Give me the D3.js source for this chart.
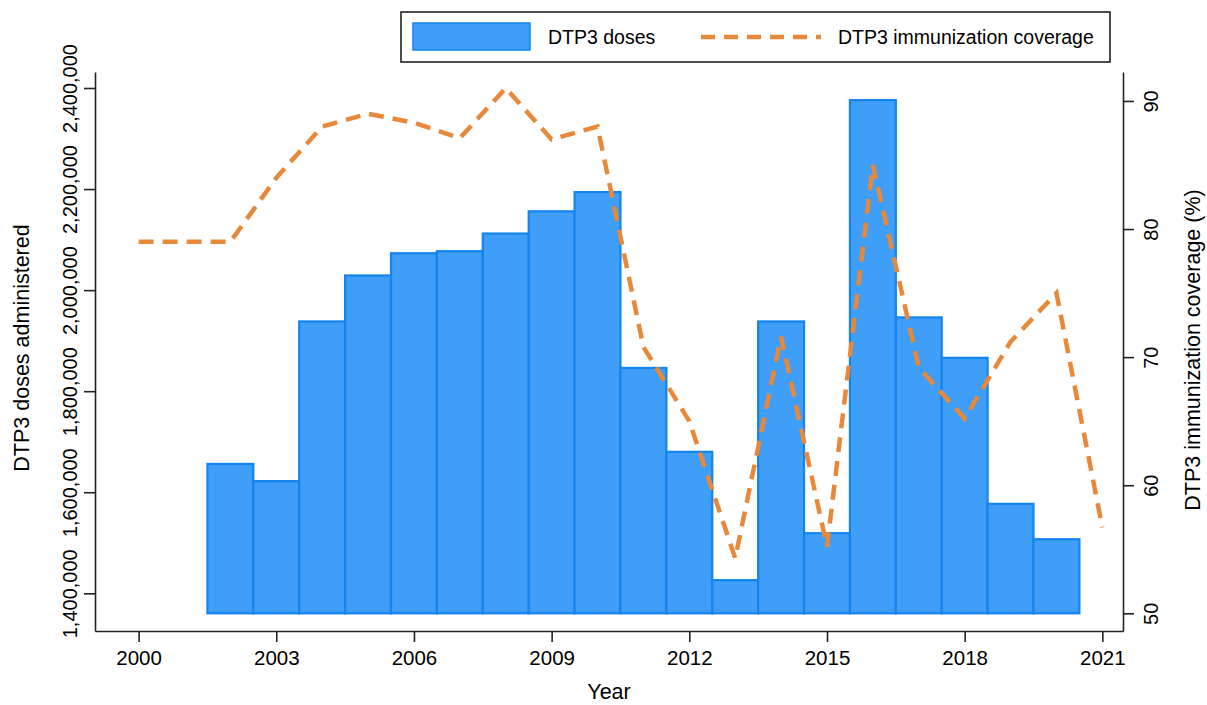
<!DOCTYPE html>
<html>
<head>
<meta charset="utf-8">
<script src="https://cdn.jsdelivr.net/npm/d3@7"></script>
<style>
  body { margin: 0; background: #fff; }
  text { font-family: "Liberation Sans", Arial, sans-serif; fill: #000; }
</style>
</head>
<body>
<script>
// Data
var years = [2000, 2001, 2002, 2003, 2004, 2005, 2006, 2007, 2008, 2009, 2010,
             2011, 2012, 2013, 2014, 2015, 2016, 2017, 2018, 2019, 2020, 2021];
var coverage = [79, 79, 79, 84, 88, 89, 88.3, 87.1, 91, 87, 88,
                70.8, 65, 54.3, 71.6, 55.2, 85, 69.2, 65.2, 71.2, 75, 56.7];
var doseYears = [2002, 2003, 2004, 2005, 2006, 2007, 2008, 2009, 2010, 2011,
                 2012, 2013, 2014, 2015, 2016, 2017, 2018, 2019, 2020];
var doses = [1656000, 1622000, 1938000, 2029000, 2073000, 2077000, 2112000, 2156000, 2194000, 1846000,
             1680000, 1426000, 1938000, 1519000, 2376000, 1946000, 1866000, 1577000, 1507000];
var xTicks = [2000, 2003, 2006, 2009, 2012, 2015, 2018, 2021];
var leftTicks = [1400000, 1600000, 1800000, 2000000, 2200000, 2400000];
var rightTicks = [50, 60, 70, 80, 90];

window.onload = function(){
    var svg = d3.select('body').append('svg')
        .attr('width', 1207)
        .attr('height', 705);

    // plot region
    var left = 95, right = 1123, top = 72, bottom = 631;

    var x = d3.scaleLinear().domain([1999.05, 2021.45]).range([left, right]);
    var yL = d3.scaleLinear().domain([1325400, 2431660]).range([bottom, top]);
    var yR = d3.scaleLinear().domain([48.62, 92.26]).range([bottom, top]);
    var base = 1360400; // bars start here (lines up with 50% on the right axis)

    // Bars
    svg.selectAll('.bar')
        .data(doses)
        .enter()
        .append('rect')
        .attr('class', 'bar')
        .attr('x', function(d, i){ return x(doseYears[i] - 0.5); })
        .attr('width', function(d, i){ return x(doseYears[i] + 0.5) - x(doseYears[i] - 0.5); })
        .attr('y', function(d){ return yL(d); })
        .attr('height', function(d){ return yL(base) - yL(d); })
        .style('fill', '#3f9ef8')
        .style('stroke', '#1484ee')
        .style('stroke-width', 2.2);

    // Coverage line
    var line = d3.line()
        .x(function(d, i){ return x(years[i]); })
        .y(function(d){ return yR(d); });

    svg.append('path')
        .datum(coverage)
        .attr('d', line)
        .style('fill', 'none')
        .style('stroke', '#e8883a')
        .style('stroke-width', 4.5)
        .style('stroke-dasharray', '15,9');

    // Axes
    var xAxis = d3.axisBottom(x).tickValues(xTicks).tickFormat(d3.format('d'))
        .tickSize(11).tickSizeOuter(0).tickPadding(8);
    var gx = svg.append('g')
        .attr('transform', 'translate(0,' + bottom + ')')
        .call(xAxis);
    gx.selectAll('text').style('font-size', '20.5px');

    var leftAxis = d3.axisLeft(yL).tickValues(leftTicks).tickFormat(d3.format(','))
        .tickSize(11).tickSizeOuter(0);
    var gl = svg.append('g')
        .attr('transform', 'translate(' + left + ',0)')
        .call(leftAxis);
    gl.selectAll('.tick text')
        .attr('x', 0).attr('dy', 0)
        .attr('transform', 'translate(-18,0) rotate(-90)')
        .attr('text-anchor', 'middle')
        .style('font-size', '20px');

    var rightAxis = d3.axisRight(yR).tickValues(rightTicks)
        .tickSize(11).tickSizeOuter(0);
    var gr = svg.append('g')
        .attr('transform', 'translate(' + right + ',0)')
        .call(rightAxis);
    gr.selectAll('.tick text')
        .attr('x', 0).attr('dy', 0)
        .attr('transform', 'translate(35,0) rotate(-90)')
        .attr('text-anchor', 'middle')
        .style('font-size', '20px');

    svg.selectAll('.domain, .tick line')
        .style('stroke', '#222')
        .style('stroke-width', 1.6);

    // Axis titles
    svg.append('text')
        .attr('x', (left + right) / 2)
        .attr('y', 699)
        .attr('text-anchor', 'middle')
        .style('font-size', '21.5px')
        .text('Year');

    svg.append('text')
        .attr('transform', 'translate(29,' + 348 + ') rotate(-90)')
        .attr('text-anchor', 'middle')
        .style('font-size', '21.5px')
        .text('DTP3 doses administered');

    svg.append('text')
        .attr('transform', 'translate(1200,' + 350 + ') rotate(-90)')
        .attr('text-anchor', 'middle')
        .style('font-size', '21.5px')
        .text('DTP3 immunization coverage (%)');

    // Legend
    var legend = svg.append('g');
    legend.append('rect')
        .attr('x', 401).attr('y', 12)
        .attr('width', 709).attr('height', 50)
        .style('fill', '#fff')
        .style('stroke', '#222')
        .style('stroke-width', 1.6);
    legend.append('rect')
        .attr('x', 413).attr('y', 23)
        .attr('width', 117).attr('height', 27)
        .style('fill', '#3f9ef8')
        .style('stroke', '#1484ee')
        .style('stroke-width', 1.5);
    legend.append('text')
        .attr('x', 548).attr('y', 44)
        .style('font-size', '19.5px')
        .text('DTP3 doses');
    legend.append('line')
        .attr('x1', 701).attr('x2', 821)
        .attr('y1', 37).attr('y2', 37)
        .style('stroke', '#e8883a')
        .style('stroke-width', 4.5)
        .style('stroke-dasharray', '14,9');
    legend.append('text')
        .attr('x', 838).attr('y', 44)
        .style('font-size', '19.5px')
        .text('DTP3 immunization coverage');
};
</script>
</body>
</html>
